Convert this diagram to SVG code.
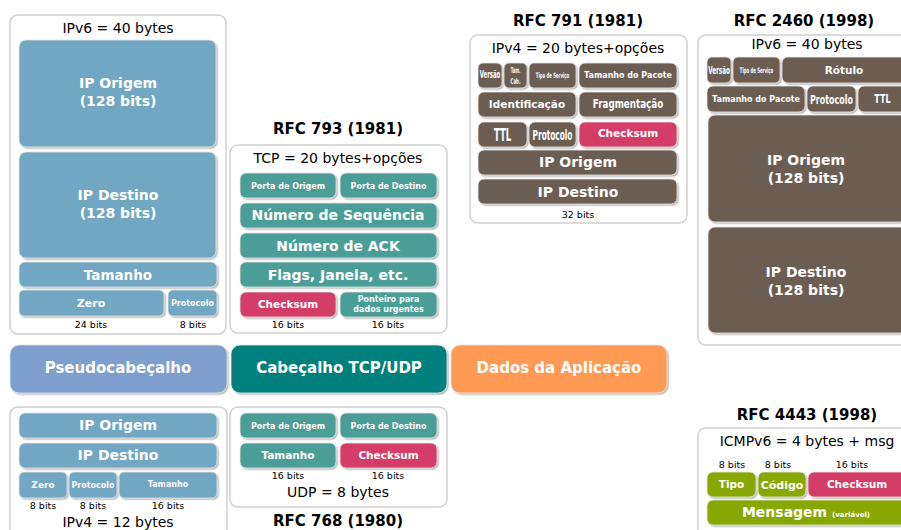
<svg xmlns="http://www.w3.org/2000/svg" width="901" height="530" viewBox="0 0 901 530">
<defs>
<filter id="sh" x="-10%" y="-10%" width="130%" height="140%">
<feDropShadow dx="1.5" dy="1.5" stdDeviation="0.7" flood-color="#888" flood-opacity="0.55"/>
</filter>
<style>
.panel{fill:#fff;stroke:#cfcfcf;stroke-width:1.5}
.box{filter:url(#sh);stroke:#e6e6e6;stroke-width:0.8}
.blue{fill:#71A7C3}
.teal{fill:#4B9E97}
.pink{fill:#D43C68}
.brown{fill:#6C5D52}
.green{fill:#88A800}
.b{font-family:"DejaVu Sans",sans-serif;font-weight:bold;fill:#fff;text-anchor:middle}
.t{font-family:"DejaVu Sans",sans-serif;fill:#000;text-anchor:middle}
.h{font-family:"DejaVu Sans",sans-serif;font-weight:bold;fill:#000;text-anchor:middle;font-size:15px}
</style>
</defs>
<rect width="901" height="530" fill="#fff"/>

<g id="pseudo-ipv6">
<rect class="panel" x="10" y="15" width="216" height="319" rx="8"/>
<text class="t" x="118" y="33" font-size="14">IPv6 = 40 bytes</text>
<rect class="box blue" x="19" y="40" width="197" height="107" rx="7"/>
<text class="b" x="118" y="88" font-size="14">IP Origem</text>
<text class="b" x="118" y="106" font-size="14">(128 bits)</text>
<rect class="box blue" x="19" y="152" width="197" height="106" rx="7"/>
<text class="b" x="118" y="200" font-size="14">IP Destino</text>
<text class="b" x="118" y="218" font-size="14">(128 bits)</text>
<rect class="box blue" x="19" y="262" width="198" height="25" rx="6"/>
<text class="b" x="118" y="280" font-size="13.5">Tamanho</text>
<rect class="box blue" x="19" y="290" width="145" height="26" rx="5"/>
<text class="b" x="91" y="307" font-size="11">Zero</text>
<rect class="box blue" x="168" y="290" width="49" height="26" rx="5"/>
<text class="b" x="192.5" y="306" font-size="8">Protocolo</text>
<text class="t" x="91" y="328" font-size="9.5">24 bits</text>
<text class="t" x="193" y="328" font-size="9.5">8 bits</text>
</g>

<g id="tcp">
<text class="h" x="338" y="134">RFC 793 (1981)</text>
<rect class="panel" x="230" y="145" width="217" height="188" rx="8"/>
<text class="t" x="338" y="163" font-size="14">TCP = 20 bytes+opções</text>
<rect class="box teal" x="240" y="173" width="96" height="25" rx="6"/>
<text class="b" x="288" y="189" font-size="8">Porta de Origem</text>
<rect class="box teal" x="340" y="173" width="97" height="25" rx="6"/>
<text class="b" x="388.5" y="189" font-size="8">Porta de Destino</text>
<rect class="box teal" x="240" y="203" width="197" height="25" rx="6"/>
<text class="b" x="338" y="220" font-size="14">Número de Sequência</text>
<rect class="box teal" x="240" y="233" width="197" height="25" rx="6"/>
<text class="b" x="338" y="251" font-size="14">Número de ACK</text>
<rect class="box teal" x="240" y="262" width="197" height="25" rx="6"/>
<text class="b" x="338" y="280" font-size="14">Flags, Janela, etc.</text>
<rect class="box pink" x="240" y="292" width="96" height="25" rx="6"/>
<text class="b" x="288" y="308" font-size="10.5">Checksum</text>
<rect class="box teal" x="340" y="292" width="97" height="25" rx="6"/>
<text class="b" x="388.5" y="301.5" font-size="8">Ponteiro para</text>
<text class="b" x="388.5" y="311.5" font-size="8">dados urgentes</text>
<text class="t" x="288" y="328" font-size="9.5">16 bits</text>
<text class="t" x="388" y="328" font-size="9.5">16 bits</text>
</g>

<g id="ipv4">
<text class="h" x="578" y="26">RFC 791 (1981)</text>
<rect class="panel" x="470" y="35" width="217" height="188" rx="8"/>
<text class="t" x="578" y="53" font-size="14">IPv4 = 20 bytes+opções</text>
<rect class="box brown" x="478" y="63" width="24" height="25" rx="5"/>
<text class="b" transform="translate(490,78) scale(0.51,1)" font-size="10.5">Versão</text>
<rect class="box brown" x="504" y="63" width="23" height="25" rx="5"/>
<text class="b" transform="translate(515.5,73) scale(0.45,1)" font-size="8">Tam.</text>
<text class="b" transform="translate(515.5,84) scale(0.5,1)" font-size="8">Cab.</text>
<rect class="box brown" x="529" y="63" width="47" height="25" rx="5"/>
<text class="b" transform="translate(552.5,77.5) scale(0.515,1)" font-size="7.5">Tipo de Serviço</text>
<rect class="box brown" x="579" y="63" width="98" height="25" rx="6"/>
<text class="b" x="628" y="78" font-size="8">Tamanho do Pacote</text>
<rect class="box brown" x="478" y="92" width="98" height="25" rx="6"/>
<text class="b" x="527" y="108" font-size="10.5">Identificação</text>
<rect class="box brown" x="579" y="92" width="98" height="25" rx="6"/>
<text class="b" transform="translate(628,108) scale(0.675,1)" font-size="13">Fragmentação</text>
<rect class="box brown" x="478" y="122" width="49" height="25" rx="6"/>
<text class="b" transform="translate(502.5,141) scale(0.5,1)" font-size="17">TTL</text>
<rect class="box brown" x="529" y="122" width="47" height="25" rx="6"/>
<text class="b" transform="translate(552.5,140) scale(0.51,1)" font-size="14.5">Protocolo</text>
<rect class="box pink" x="579" y="122" width="98" height="25" rx="6"/>
<text class="b" x="628" y="137" font-size="10.5">Checksum</text>
<rect class="box brown" x="478" y="150" width="199" height="25" rx="6"/>
<text class="b" x="578" y="167" font-size="14">IP Origem</text>
<rect class="box brown" x="478" y="179" width="199" height="25" rx="6"/>
<text class="b" x="578" y="197" font-size="14">IP Destino</text>
<text class="t" x="578" y="218" font-size="9.5">32 bits</text>
</g>

<g id="ipv6">
<text class="h" x="804" y="26">RFC 2460 (1998)</text>
<rect class="panel" x="698" y="35" width="216" height="310" rx="8"/>
<text class="t" x="807" y="49" font-size="14">IPv6 = 40 bytes</text>
<rect class="box brown" x="707" y="57" width="24" height="26" rx="5"/>
<text class="b" transform="translate(719,74) scale(0.537,1)" font-size="10.5">Versão</text>
<rect class="box brown" x="733" y="57" width="47" height="26" rx="5"/>
<text class="b" transform="translate(756.5,73) scale(0.515,1)" font-size="7.5">Tipo de Serviço</text>
<rect class="box brown" x="782" y="57" width="125" height="26" rx="6"/>
<text class="b" x="844" y="74" font-size="10.5">Rótulo</text>
<rect class="box brown" x="707" y="86" width="98" height="26" rx="6"/>
<text class="b" x="756" y="102" font-size="8">Tamanho do Pacote</text>
<rect class="box brown" x="807" y="86" width="49" height="26" rx="6"/>
<text class="b" transform="translate(831.5,104) scale(0.64,1)" font-size="12.5">Protocolo</text>
<rect class="box brown" x="858" y="86" width="49" height="26" rx="6"/>
<text class="b" transform="translate(882.5,103) scale(0.7,1)" font-size="11.5">TTL</text>
<rect class="box brown" x="708" y="115" width="199" height="107" rx="7"/>
<text class="b" x="806" y="165" font-size="14">IP Origem</text>
<text class="b" x="806" y="183" font-size="14">(128 bits)</text>
<rect class="box brown" x="708" y="227" width="199" height="106" rx="7"/>
<text class="b" x="806" y="277" font-size="14">IP Destino</text>
<text class="b" x="806" y="295" font-size="14">(128 bits)</text>
</g>

<g id="pseudocabecalho">
<rect class="box" x="10" y="345" width="217" height="48" rx="9" fill="#7E9ECE"/>
<text class="b" x="118" y="373" font-size="15">Pseudocabeçalho</text>
</g>
<g id="cabecalho">
<rect class="box" x="231" y="345" width="216" height="48" rx="9" fill="#00807B"/>
<text class="b" x="339" y="373" font-size="15">Cabeçalho TCP/UDP</text>
</g>
<g id="dados">
<rect class="box" x="451" y="345" width="216" height="48" rx="9" fill="#FF9A55"/>
<text class="b" x="559" y="373" font-size="15">Dados da Aplicação</text>
</g>

<g id="pseudo-ipv4">
<rect class="panel" x="10" y="407" width="217" height="140" rx="8"/>
<rect class="box blue" x="19" y="413" width="198" height="25" rx="6"/>
<text class="b" x="118" y="430" font-size="14">IP Origem</text>
<rect class="box blue" x="19" y="443" width="198" height="25" rx="6"/>
<text class="b" x="118" y="460" font-size="14">IP Destino</text>
<rect class="box blue" x="19" y="472" width="48" height="26" rx="5"/>
<text class="b" x="43" y="488" font-size="9">Zero</text>
<rect class="box blue" x="69" y="472" width="48" height="26" rx="5"/>
<text class="b" x="93" y="488" font-size="8">Protocolo</text>
<rect class="box blue" x="119" y="472" width="98" height="26" rx="5"/>
<text class="b" x="168" y="487" font-size="8">Tamanho</text>
<text class="t" x="43" y="509" font-size="9.5">8 bits</text>
<text class="t" x="93" y="509" font-size="9.5">8 bits</text>
<text class="t" x="168" y="509" font-size="9.5">16 bits</text>
<text class="t" x="118" y="527" font-size="14">IPv4 = 12 bytes</text>
</g>

<g id="udp">
<rect class="panel" x="230" y="407" width="217" height="100" rx="8"/>
<rect class="box teal" x="240" y="413" width="96" height="25" rx="6"/>
<text class="b" x="288" y="429" font-size="8">Porta de Origem</text>
<rect class="box teal" x="340" y="413" width="97" height="25" rx="6"/>
<text class="b" x="388.5" y="429" font-size="8">Porta de Destino</text>
<rect class="box teal" x="240" y="443" width="96" height="25" rx="6"/>
<text class="b" x="288" y="459" font-size="10.5">Tamanho</text>
<rect class="box pink" x="340" y="443" width="97" height="25" rx="6"/>
<text class="b" x="388.5" y="459" font-size="10.5">Checksum</text>
<text class="t" x="288" y="479" font-size="9.5">16 bits</text>
<text class="t" x="388" y="479" font-size="9.5">16 bits</text>
<text class="t" x="338" y="497" font-size="14">UDP = 8 bytes</text>
<text class="h" x="338" y="526">RFC 768 (1980)</text>
</g>

<g id="icmpv6">
<text class="h" x="807" y="420">RFC 4443 (1998)</text>
<rect class="panel" x="698" y="428" width="216" height="120" rx="8"/>
<text class="t" x="807" y="446" font-size="14">ICMPv6 = 4 bytes + msg</text>
<text class="t" x="732" y="468" font-size="9.5">8 bits</text>
<text class="t" x="778" y="468" font-size="9.5">8 bits</text>
<text class="t" x="852" y="468" font-size="9.5">16 bits</text>
<rect class="box green" x="707" y="472" width="49" height="25" rx="6"/>
<text class="b" x="731.5" y="488" font-size="10.5">Tipo</text>
<rect class="box green" x="758" y="472" width="48" height="25" rx="6"/>
<text class="b" x="782" y="489" font-size="11">Código</text>
<rect class="box pink" x="808" y="472" width="99" height="25" rx="6"/>
<text class="b" x="857" y="488" font-size="10.5">Checksum</text>
<rect class="box green" x="707" y="500" width="200" height="25" rx="6"/>
<text class="b" x="806" y="517" font-size="14">Mensagem <tspan font-size="7">(variável)</tspan></text>
</g>

<g id="connectors"/>
</svg>
